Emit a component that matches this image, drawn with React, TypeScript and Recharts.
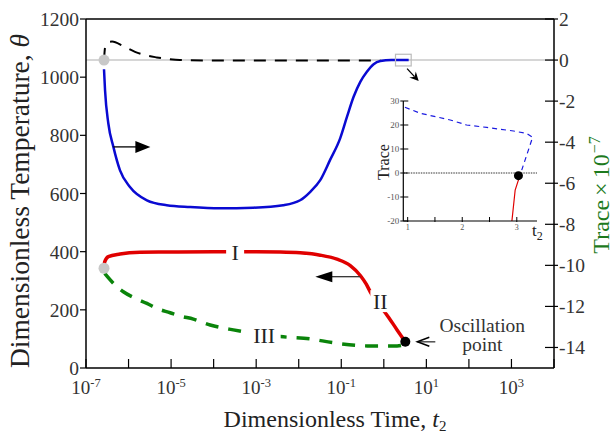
import React from "react";
import { ComposedChart, Line, XAxis, YAxis, ReferenceLine, ReferenceDot } from "recharts";

const FONT = "'Liberation Serif', 'Times New Roman', serif";
const TICK_COLOR = "#333";

// axes
const timeTicks = [1e-7, 1e-6, 1e-5, 1e-4, 1e-3, 1e-2, 1e-1, 1, 10, 100, 1000, 10000];
const labelledPowers = [-7, -5, -3, -1, 1, 3];
const tempTicks = [0, 200, 400, 600, 800, 1000, 1200];
const traceTicks = [-14, -12, -10, -8, -6, -4, -2, 0, 2];

// trace (right axis, x 10^-7)
const blueTime = [2.65e-7, 2.8e-7, 3.35e-7, 4.4e-7, 6.3e-7, 1.08e-6, 2.7e-6, 7.9e-6, 2.8e-5, 1.4e-4, 8.5e-4, 4.3e-3, 0.0108, 0.0187, 0.032, 0.055, 0.0946, 0.136, 0.195, 0.28, 0.4, 0.576, 0.83, 1.5, 3.84];
const blueTrace = [-0.45, -1.46, -3.09, -4.23, -5.37, -6.18, -6.83, -7.07, -7.16, -7.22, -7.19, -7.07, -6.83, -6.42, -5.85, -4.85, -3.8, -2.77, -1.79, -1.06, -0.57, -0.2, -0.05, 0, 0];
const blackTime = [2.65e-7, 2.8e-7, 3.3e-7, 4.1e-7, 7.5e-7, 1.42e-6, 2.45e-6, 4.6e-6, 8.6e-6, 1.6e-5, 1e-4, 1e-2, 0.83];
const blackTrace = [0, 0.59, 0.88, 0.9, 0.68, 0.4, 0.24, 0.13, 0.05, 0, -0.02, -0.02, -0.02];

// temperature (left axis)
const redTime = [2.65e-7, 2.75e-7, 3.35e-7, 6.3e-7, 1.86e-6, 1e-5, 1e-4, 1e-3, 3.7e-3, 0.0108, 0.032, 0.0793, 0.163, 0.28, 0.387, 0.48, 1.3, 2.05, 3.2];
const redTheta = [345, 365, 383, 392, 398, 399, 400, 400, 399, 396, 388, 374, 352, 318, 288, 262, 174, 131, 90];
const greenTime = [2.75e-7, 4.4e-7, 7.55e-7, 1.42e-6, 2.7e-6, 4.6e-6, 9.5e-6, 1.6e-5, 3.35e-5, 8.3e-5, 2.9e-4, 3.7e-3, 0.0187, 0.065, 0.41, 2.05, 3.0];
const greenTheta = [325, 291, 262, 240, 222, 205, 190, 179, 168, 148, 131, 108, 100, 87, 76, 76, 80];

// inset: trace near the oscillation point
const insetTTicks = [1, 1.5, 2, 2.5, 3];
const insetTraceTicks = [-20, -10, 0, 10, 20, 30];
const insetBlueTime = [0.95, 1.23, 1.78, 2.08, 2.45, 2.94, 3.18, 3.29, 3.09];
const insetBlueTrace = [27.4, 24.9, 22.1, 20, 19, 17.5, 16.5, 14.9, 1.2];
const insetRedTime = [3.06, 2.97, 2.91];
const insetRedTrace = [-0.8, -7.1, -20];

const zip = (xs: number[], ys: number[]) => xs.map((t, i) => ({ t, v: ys[i] }));

const blueData = zip(blueTime, blueTrace);
const blackData = zip(blackTime, blackTrace);
const redData = zip(redTime, redTheta);
const greenData = zip(greenTime, greenTheta);
const insetBlue = zip(insetBlueTime, insetBlueTrace);
const insetRed = zip(insetRedTime, insetRedTrace);

const TimeTick = ({ x, y, payload }: any) => {
  const p = Math.round(Math.log10(payload.value));
  return (
    <g>
      <line x1={x} x2={x} y1={y} y2={y - 9} stroke="#000" strokeWidth={1.2} />
      {labelledPowers.includes(p) && (
        <text x={x} y={y + 25.5} textAnchor="middle" fontFamily={FONT} fontSize={19} fill={TICK_COLOR}>
          10<tspan dy={-7} fontSize={12.5}>{p}</tspan>
        </text>
      )}
    </g>
  );
};

const TempTick = ({ x, y, payload }: any) => (
  <g>
    <line x1={x - 6} x2={x} y1={y} y2={y} stroke="#000" strokeWidth={1.2} />
    <text x={x - 7} y={y} dy="0.36em" textAnchor="end" fontFamily={FONT} fontSize={19.5} fill={TICK_COLOR}>
      {payload.value}
    </text>
  </g>
);

const TraceTick = ({ x, y, payload }: any) => (
  <g>
    <line x1={x - 9} x2={x + 4} y1={y} y2={y} stroke="#000" strokeWidth={1.2} />
    <text x={x + 5} y={y} dy="0.36em" textAnchor="start" fontFamily={FONT} fontSize={19.5} fill={TICK_COLOR}>
      {payload.value}
    </text>
  </g>
);

const InsetYTick = ({ x, y, payload }: any) => (
  <g>
    <line x1={x - 3} x2={x + 5} y1={y} y2={y} stroke="#000" strokeWidth={1} />
    <text x={x - 4} y={y} dy="0.35em" textAnchor="end" fontFamily={FONT} fontSize={9} fill="#555">
      {payload.value}
    </text>
  </g>
);

const InsetXTick = ({ x, y, payload }: any) => (
  <g>
    <line x1={x} x2={x} y1={y + 1} y2={y - 4} stroke="#000" strokeWidth={1} />
    {Number.isInteger(payload.value) && (
      <text x={x} y={y + 6} dy="0.35em" textAnchor="middle" fontFamily={FONT} fontSize={8} fill="#555">
        {payload.value}
      </text>
    )}
  </g>
);

const timeLabel = ({ viewBox }: any) => (
  <text x={viewBox.x + viewBox.width / 2 + 15} y={viewBox.y + 59} textAnchor="middle" fontFamily={FONT} fontSize={24} fill="#222">
    Dimensionless Time, <tspan fontStyle="italic">t</tspan>
    <tspan dy={4} fontSize={15}>2</tspan>
  </text>
);

const tempLabel = ({ viewBox }: any) => {
  const x = viewBox.x + 29;
  const y = 201;
  return (
    <text x={x} y={y} transform={`rotate(-90, ${x}, ${y})`} textAnchor="middle" fontFamily={FONT} fontSize={27.5} fill="#222">
      Dimensionless Temperature, <tspan fontStyle="italic">θ</tspan>
    </text>
  );
};

const traceLabel = ({ viewBox }: any) => {
  const x = viewBox.x + 55;
  const y = 195;
  return (
    <text x={x} y={y} transform={`rotate(-90, ${x}, ${y})`} textAnchor="middle" fontFamily={FONT} fontSize={24} fill="#1d7a1d">
      Trace<tspan dx={4}>×</tspan><tspan dx={4}>10</tspan>
      <tspan dx={1} dy={-9} fontSize={16}>−7</tspan>
    </text>
  );
};

const insetTraceLabel = ({ viewBox }: any) => {
  const x = viewBox.x + 18.5;
  const y = viewBox.y + viewBox.height / 2 + 1;
  return (
    <text x={x} y={y} transform={`rotate(-90, ${x}, ${y})`} textAnchor="middle" fontFamily={FONT} fontSize={16} fill="#222">
      Trace
    </text>
  );
};

const insetTimeLabel = ({ viewBox }: any) => (
  <text x={viewBox.x + viewBox.width - 5} y={viewBox.y + 15} fontFamily={FONT} fontSize={17} fill="#222">
    t<tspan dy={4} fontSize={12}>2</tspan>
  </text>
);

const grayDot = ({ cx, cy }: any) => <circle cx={cx} cy={cy} r={5.5} fill="#c8c8c8" />;

const arrowToRight = ({ cx, cy }: any) => (
  <g>
    <line x1={cx} y1={cy} x2={cx + 23} y2={cy} stroke="#000" strokeWidth={1.3} />
    <polygon points={`${cx + 22},${cy - 6} ${cx + 37},${cy} ${cx + 22},${cy + 6}`} fill="#000" />
  </g>
);

const arrowToLeft = ({ cx, cy }: any) => (
  <g>
    <line x1={cx} y1={cy} x2={cx - 29} y2={cy} stroke="#333" strokeWidth={1.3} />
    <polygon points={`${cx - 28},${cy - 5.5} ${cx - 45},${cy} ${cx - 28},${cy + 5.5}`} fill="#000" />
  </g>
);

const oscillationPoint = ({ cx, cy }: any) => (
  <g>
    <circle cx={cx} cy={cy} r={5} fill="#000" />
    <line x1={cx + 12} y1={cy} x2={cx + 30} y2={cy} stroke="#333" strokeWidth={1.3} />
    <polyline points={`${cx + 24},${cy - 4.5} ${cx + 12},${cy} ${cx + 24},${cy + 4.5}`} fill="none" stroke="#000" strokeWidth={1.5} />
    <text x={cx + 77} y={cy - 10} textAnchor="middle" fontFamily={FONT} fontSize={19.5} fill={TICK_COLOR}>
      Oscillation
    </text>
    <text x={cx + 77} y={cy + 9} textAnchor="middle" fontFamily={FONT} fontSize={19.5} fill={TICK_COLOR}>
      point
    </text>
  </g>
);

const zoomBox = ({ cx, cy }: any) => (
  <g>
    <rect x={cx - 8} y={cy - 5.8} width={15.7} height={11.7} fill="none" stroke="#bbb" strokeWidth={1.2} />
    <line x1={cx + 3.6} y1={cy + 8.6} x2={cx + 11} y2={cy + 16.6} stroke="#000" strokeWidth={1.3} />
    <polygon points={`${cx + 15.2},${cy + 21} ${cx + 5.8},${cy + 17.5} ${cx + 11.1},${cy + 16.6} ${cx + 12.3},${cy + 11.4}`} fill="#000" />
  </g>
);

const branchLabel = (text: string, w: number, h: number) => ({ cx, cy }: any) => (
  <g>
    <rect x={cx - w / 2} y={cy - h / 2} width={w} height={h} fill="#fff" />
    <text x={cx} y={cy} dy="0.35em" textAnchor="middle" fontFamily={FONT} fontSize={22} fill="#222">
      {text}
    </text>
  </g>
);

const insetDot = ({ cx, cy }: any) => <circle cx={cx} cy={cy} r={4.5} fill="#000" />;

export default function App() {
  return (
    <div style={{ position: "absolute", left: 0, top: 0, width: 615, height: 433, background: "#fff", overflow: "hidden", fontFamily: FONT }}>
      <ComposedChart width={615} height={433} margin={{ top: 19, right: 0, left: 0, bottom: 0 }}>
        <XAxis
          dataKey="t"
          type="number"
          scale="log"
          domain={[1e-7, 1e4]}
          allowDataOverflow
          ticks={timeTicks}
          interval={0}
          tick={TimeTick}
          tickLine={false}
          tickSize={0}
          tickMargin={0}
          height={65}
          axisLine={{ stroke: "#000", strokeWidth: 1.5 }}
          label={timeLabel}
        />
        <YAxis
          yAxisId="left"
          type="number"
          domain={[0, 1200]}
          ticks={tempTicks}
          interval={0}
          width={86}
          tick={TempTick}
          tickLine={false}
          tickSize={0}
          tickMargin={0}
          axisLine={{ stroke: "#000", strokeWidth: 1.5 }}
          label={tempLabel}
        />
        <YAxis
          yAxisId="right"
          orientation="right"
          type="number"
          domain={[-15, 2]}
          ticks={traceTicks}
          interval={0}
          width={61}
          tick={TraceTick}
          tickLine={false}
          tickSize={0}
          tickMargin={0}
          axisLine={{ stroke: "#000", strokeWidth: 1.5 }}
          label={traceLabel}
        />
        <ReferenceLine yAxisId="right" y={0} stroke="#c8c8c8" strokeWidth={1.5} />
        <ReferenceLine yAxisId="left" y={1200} stroke="#000" strokeWidth={1.5} ifOverflow="visible" />

        <Line data={blackData} dataKey="v" yAxisId="right" type="monotone" stroke="#000" strokeWidth={2} strokeDasharray="12 9" dot={false} activeDot={false} isAnimationActive={false} />
        <Line data={blueData} dataKey="v" yAxisId="right" type="monotone" stroke="#0a0ad2" strokeWidth={2.5} dot={false} activeDot={false} isAnimationActive={false} />
        <Line data={greenData} dataKey="v" yAxisId="left" type="monotone" stroke="#0a840a" strokeWidth={3.5} strokeDasharray="13 10" dot={false} activeDot={false} isAnimationActive={false} />
        <Line data={redData} dataKey="v" yAxisId="left" type="monotone" stroke="#e00000" strokeWidth={3.5} dot={false} activeDot={false} isAnimationActive={false} />

        <ReferenceDot yAxisId="right" x={2.65e-7} y={0} shape={grayDot} />
        <ReferenceDot yAxisId="left" x={2.65e-7} y={343} shape={grayDot} />
        <ReferenceDot yAxisId="right" x={4.4e-7} y={-4.23} shape={arrowToRight} />
        <ReferenceDot yAxisId="left" x={0.28} y={314} shape={arrowToLeft} />
        <ReferenceDot yAxisId="left" x={3.2e-4} y={397} shape={branchLabel("I", 18, 20)} />
        <ReferenceDot yAxisId="left" x={0.83} y={230} shape={branchLabel("II", 20, 22)} />
        <ReferenceDot yAxisId="left" x={1.54e-3} y={113.5} shape={branchLabel("III", 33, 17)} />
        <ReferenceDot yAxisId="left" x={3.2} y={90} shape={oscillationPoint} />
        <ReferenceDot yAxisId="right" x={2.9} y={0} shape={zoomBox} />
      </ComposedChart>

      <div style={{ position: "absolute", left: 370, top: 95 }}>
        <ComposedChart width={175} height={150} margin={{ top: 6, right: 8, left: 0, bottom: 0 }}>
          <XAxis
            dataKey="t"
            type="number"
            domain={[0.92, 3.37]}
            allowDataOverflow
            ticks={insetTTicks}
            interval={0}
            tick={InsetXTick}
            tickLine={false}
            tickSize={0}
            tickMargin={0}
            height={24}
            axisLine={{ stroke: "#000", strokeWidth: 1.2 }}
            label={insetTimeLabel}
          />
          <YAxis
            type="number"
            domain={[-20, 30]}
            allowDataOverflow
            ticks={insetTraceTicks}
            interval={0}
            width={33.3}
            tick={InsetYTick}
            tickLine={false}
            tickSize={0}
            tickMargin={0}
            axisLine={{ stroke: "#000", strokeWidth: 1.2 }}
            label={insetTraceLabel}
          />
          <ReferenceLine y={0} stroke="#333" strokeWidth={1.2} strokeDasharray="1.5 1" />
          <Line data={insetBlue} dataKey="v" type="linear" stroke="#1a1ae0" strokeWidth={1.2} strokeDasharray="5 4" dot={false} activeDot={false} isAnimationActive={false} />
          <Line data={insetRed} dataKey="v" type="linear" stroke="#e00000" strokeWidth={1.2} dot={false} activeDot={false} isAnimationActive={false} />
          <ReferenceDot x={3.03} y={-1.1} shape={insetDot} />
        </ComposedChart>
      </div>
    </div>
  );
}
